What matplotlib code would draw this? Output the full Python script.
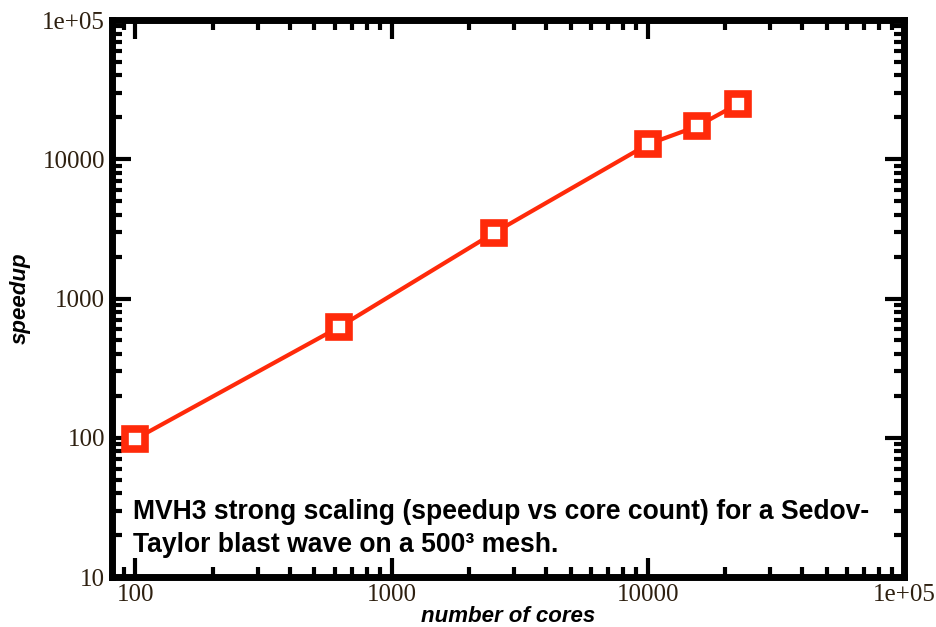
import matplotlib
matplotlib.use("Agg")
import matplotlib.pyplot as plt
from matplotlib.ticker import FixedLocator, LogLocator, NullFormatter

cores = [100, 625, 2500, 10000, 15625, 22500]
speedup = [98, 625, 2950, 12800, 17300, 25000]
xticks = [100, 1000, 10000, 100000]
xticklabels = ["100", "1000", "10000", "1e+05"]
yticks = [10, 100, 1000, 10000, 100000]
yticklabels = ["10", "100", "1000", "10000", "1e+05"]
caption = ["MVH3 strong scaling (speedup vs core count) for a Sedov-",
           "Taylor blast wave on a 500\u00b3 mesh."]

fig = plt.figure(figsize=(9.37, 6.27), dpi=100)
ax = fig.add_axes([0.1195, 0.0797, 0.8453, 0.8883])
red = "#ff2a0a"
ax.plot(cores, speedup, color=red, lw=3, marker="s", ms=15, mfc="white",
        mec=red, mew=5.5, zorder=3, clip_on=False)
ax.set_xscale("log")
ax.set_yscale("log")
ax.set_xlim(81, 1e5)
ax.set_ylim(10, 1e5)
ax.xaxis.set_major_locator(FixedLocator(xticks))
ax.yaxis.set_major_locator(FixedLocator(yticks))
ax.xaxis.set_minor_locator(LogLocator(base=10, subs=range(2, 10)))
ax.yaxis.set_minor_locator(LogLocator(base=10, subs=range(2, 10)))
ax.xaxis.set_minor_formatter(NullFormatter())
ax.yaxis.set_minor_formatter(NullFormatter())
ax.set_xticklabels(xticklabels)
ax.set_yticklabels(yticklabels)
for lab in ax.get_xticklabels() + ax.get_yticklabels():
    lab.set_family("Liberation Serif")
    lab.set_fontsize(18)
    lab.set_color("#2e2010")
ax.tick_params(which="major", direction="in", length=14, width=3, top=True, right=True, pad=5)
ax.tick_params(which="minor", direction="in", length=7, width=3, top=True, right=True)
for s in ax.spines.values():
    s.set_linewidth(5)
ax.set_xlabel("number of cores", family="Liberation Sans", fontweight="bold",
              style="italic", fontsize=16, labelpad=0)
ax.set_ylabel("speedup", family="Liberation Sans", fontweight="bold",
              style="italic", fontsize=16, labelpad=8)
for txt, yb in zip(caption, [0.1041, 0.0449]):
    ax.text(0.0265, yb, txt, transform=ax.transAxes, family="Liberation Sans",
            fontweight="bold", fontsize=19.1, ha="left", va="baseline")
fig.savefig("out.png", dpi=100)
